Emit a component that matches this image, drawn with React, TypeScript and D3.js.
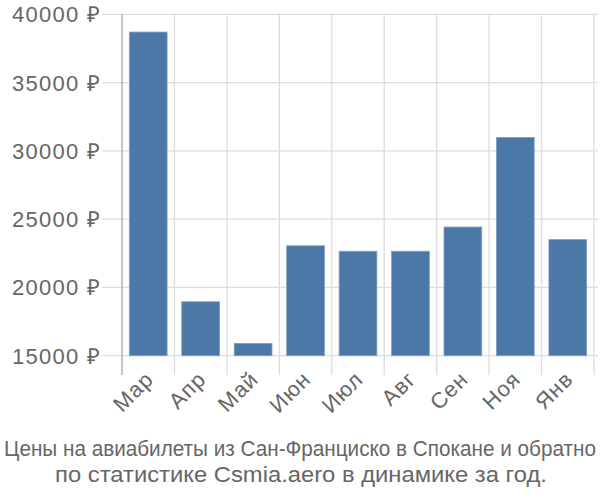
import React, { useLayoutEffect, useRef, useState } from "react";
import * as d3 from "d3";

const categories = ["Мар", "Апр", "Май", "Июн", "Июл", "Авг", "Сен", "Ноя", "Янв"];
const prices = [38700, 18950, 15900, 23050, 22650, 22650, 24420, 30980, 23500];
const yTicks = [15000, 20000, 25000, 30000, 35000, 40000];
const titleLines = [
  "Цены на авиабилеты из Сан-Франциско в Спокане и обратно",
  "по статистике Csmia.aero в динамике за год.",
];
const titleWidths = [592, 492];

const W = 600;
const H = 500;
const left = 122;
const right = 594;
const top = 14.3;
const bottom = 355.7;

function FitText({ text, cx, y, width, font, size, fill }: any) {
  const ref = useRef<SVGTextElement>(null);
  const [sx, setSx] = useState(1);
  useLayoutEffect(() => {
    if (ref.current) {
      const w = ref.current.getComputedTextLength();
      if (w > 0) setSx(width / w);
    }
  }, [text, width]);
  return (
    <text
      ref={ref}
      transform={`translate(${cx},${y}) scale(${sx},1)`}
      textAnchor="middle"
      fontFamily={font}
      fontSize={size}
      fill={fill}
    >
      {text}
    </text>
  );
}

export default function App() {
  const x = d3.scaleBand<string>().domain(categories).range([left, right]).paddingInner(0.28).paddingOuter(0.14);
  const xg = d3.scaleBand<string>().domain(categories).range([left, right]);
  const y = d3.scaleLinear().domain([15000, 40000]).range([bottom, top]);
  const font = "'Liberation Sans', Arial, sans-serif";
  const grid = "#dddddd";
  const text = "#666666";
  return (
    <div style={{ position: "absolute", left: 0, top: 0 }}>
      <svg width={W} height={H} style={{ display: "block" }}>
        <rect width={W} height={H} fill="#ffffff" />
        {yTicks.map((t) => (
          <g key={t}>
            <line x1={102} x2={598} y1={y(t)} y2={y(t)} stroke={grid} strokeWidth={1.3} />
            <text x={101.3} y={y(t)} dy="0.36em" textAnchor="end" fontFamily={font} fontSize={22} letterSpacing={1.3} fill={text}>
              {d3.format("d")(t)} ₽
            </text>
          </g>
        ))}
        {categories.map((c) => (
          <line key={c} x1={xg(c)! + xg.bandwidth()} x2={xg(c)! + xg.bandwidth()} y1={top} y2={375} stroke={grid} strokeWidth={1.3} />
        ))}
        <line x1={left} x2={left} y1={top} y2={375} stroke="#aaaaaa" strokeWidth={1.3} />
        {categories.map((c, i) => (
          <rect
            key={c}
            x={x(c)!}
            y={y(prices[i])}
            width={x.bandwidth()}
            height={bottom - y(prices[i])}
            fill="#4c78a8"
            stroke="#7f9fc4"
            strokeWidth={0.8}
          />
        ))}
        {categories.map((c) => {
          const cx = xg(c)! + xg.bandwidth() / 2 + 1;
          const cy = 375;
          return (
            <text
              key={c}
              transform={`translate(${cx},${cy}) rotate(-45)`}
              textAnchor="end"
              dy="0.36em"
              fontFamily={font}
              fontSize={22}
              letterSpacing={1}
              fill={text}
            >
              {c}
            </text>
          );
        })}
        {titleLines.map((l, i) => (
          <FitText
            key={i}
            text={l}
            cx={i === 0 ? 300 : 301}
            y={455.5 + i * 26.8}
            width={titleWidths[i]}
            font={font}
            size={22}
            fill={text}
          />
        ))}
      </svg>
    </div>
  );
}
